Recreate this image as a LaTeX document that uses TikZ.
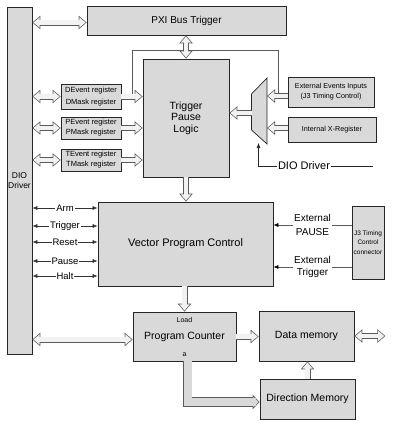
\documentclass[tikz,border=0pt]{standalone}
\usepackage{fontspec}
\setmainfont{Liberation Sans}
\usetikzlibrary{arrows.meta,calc,positioning}

\definecolor{boxgray}{HTML}{D9D9D9}
\definecolor{linegray}{HTML}{5A5A5A}
\definecolor{hollowfill}{HTML}{F2F2F2}

\begin{document}
\begin{tikzpicture}[x=1pt,y=-1pt,>={Latex[length=5pt,width=4pt]},line width=0.6pt]
        \tikzstyle{block}=[draw=black!85, fill=boxgray, line width=0.7pt, inner sep=1pt, align=center, font=\fontsize{10.5}{11.5}\selectfont]
        \tikzstyle{regbox}=[block, minimum width=60pt, minimum height=22pt, font=\fontsize{7.5}{10}\selectfont]
        % hollow block arrows: dark outline, light inside
        \tikzstyle{fatarrow}=[preaction={draw=linegray, line width=6pt, shorten >=0pt, shorten <=0pt, -{Triangle[length=8pt, width=13pt]}},
          draw=hollowfill, line width=4.6pt, shorten >=1.11pt, -{Triangle[length=6.2pt, width=10pt]},
          postaction={draw=hollowfill, line width=4.6pt, shorten >=5pt, shorten <=0pt, -}]
        \tikzstyle{fatboth}=[preaction={draw=linegray, line width=6pt, shorten >=0pt, shorten <=0pt, {Triangle[length=8pt, width=13pt]}-{Triangle[length=8pt, width=13pt]}},
          draw=hollowfill, line width=4.6pt, shorten >=1.11pt, shorten <=1.11pt, {Triangle[length=6.2pt, width=10pt]}-{Triangle[length=6.2pt, width=10pt]},
          postaction={draw=hollowfill, line width=4.6pt, shorten >=5pt, shorten <=5pt, -}]
        \tikzstyle{widearrow}=[preaction={draw=linegray, line width=9.5pt, shorten >=0pt, -{Triangle[length=7pt, width=14pt]}},
          draw=boxgray, line width=8pt, shorten >=1.06pt, -{Triangle[length=5.2pt, width=10.4pt]},
          postaction={draw=boxgray, line width=8pt, shorten >=4pt, -}]
        \tikzstyle{sig}=[<->, draw=black!80]
        \tikzstyle{siglbl}=[fill=white, text=black, inner sep=1pt, font=\fontsize{9.5}{11}\selectfont]

        \useasboundingbox (0,0) rectangle (406,432);

        % blocks
        \node[block, minimum width=25pt, minimum height=347pt, font=\fontsize{8.5}{10}\selectfont] (dio) at (19.5,180.5) {DIO\\Driver};
        \node[block, minimum width=199pt, minimum height=29pt, font=\fontsize{10}{12}\selectfont] (pxi) at (186.5,20.5) {PXI Bus Trigger};
        \node[block, minimum width=86pt, minimum height=118pt] (tpl) at (186,118) {Trigger\\Pause\\Logic};
        \node[regbox, minimum height=25pt, font=\fontsize{7.5}{12}\selectfont] (dreg) at (91,96.5) {DEvent register\\DMask register};
        \node[regbox] (preg) at (91,128) {PEvent register\\PMask register};
        \node[regbox] (treg) at (91,160) {TEvent register\\TMask register};
        \node[block, minimum width=86pt, minimum height=30pt, font=\fontsize{7.2}{10}\selectfont] (ext) at (331,92) {External Events Inputs\\(J3 Timing Control)};
        \node[block, minimum width=88pt, minimum height=25pt, font=\fontsize{7.2}{10}\selectfont] (xreg) at (332,129.5) {Internal X-Register};
        \node[block, minimum width=175pt, minimum height=84pt, font=\fontsize{11}{13}\selectfont] (vpc) at (185.5,244) {Vector Program Control};
        \node[block, minimum width=32pt, minimum height=73pt, font=\fontsize{6.5}{9.5}\selectfont] (j3) at (368,242.5) {J3 Timing\\Control\\connector};
        \node[block, minimum width=103pt, minimum height=49pt] (pc) at (184.5,336.5) {Program Counter};
        \node[font=\fontsize{7}{8}\selectfont, below=2pt of pc.north] (pcload) {Load};
        \node[font=\fontsize{7}{8}\selectfont, above=1pt of pc.south] (pca) {a};
        \node[block, minimum width=95pt, minimum height=50pt] (dmem) at (306.5,336) {Data memory};
        \node[block, minimum width=95pt, minimum height=40pt] (dirm) at (307.5,399) {Direction Memory};

        % multiplexer
        \draw[draw=black!85, fill=boxgray, line width=0.7pt] (251.5,94) -- (267,78) -- (267,144) -- (251.5,130) -- cycle;
        \coordinate (muxin1) at (267,96);
        \coordinate (muxin2) at (267,128);
        \coordinate (muxout) at (251.5,113);
        \coordinate (muxsel) at (258.5,143);

        % DIO driver select line
        \node[font=\fontsize{11}{13}\selectfont, inner sep=1pt] (diolbl) at (304,166) {DIO Driver};
        \coordinate (dioend) at (373,166);
        \draw[black!85] (diolbl.east) -- (dioend);
        \draw[black!85, ->] (diolbl.west) -| (muxsel);

        % tap from DEvent register to external events
        \coordinate (dtap) at (132,94);
        \coordinate (jtap) at (278,94);
        \draw[linegray] (dtap) -- ++(0,-44) -| (jtap);

        % wide arrows
        \draw[fatboth] ($(dio.east |- pxi.west)+(0,2)$) -- ($(pxi.west)+(0,2)$);
        \draw[fatboth] (tpl.north |- pxi.south) -- (tpl.north);
        \foreach \r in {dreg,preg,treg} {
          \draw[fatboth] (dio.east |- \r.west) -- (\r.west);
          \draw[fatarrow] (\r.east) -- (\r.east -| tpl.west);
        }
        \draw[fatarrow] (ext.west |- muxin1) -- (muxin1);
        \draw[fatarrow] (xreg.west |- muxin2) -- (muxin2);
        \draw[fatarrow] (muxout) -- (muxout -| tpl.east);
        \draw[fatarrow] (tpl.south) -- (tpl.south |- vpc.north);
        \draw[fatarrow] (pc.north |- vpc.south) -- (pc.north);
        \draw[fatboth] ($(dio.east |- pc.west)+(0,3)$) -- ($(pc.west)+(0,3)$);
        \draw[fatarrow] (pc.east) -- (pc.east -| dmem.west);
        \draw[fatboth] (dmem.east) -- ++(31,0);
        \draw[fatarrow] (dirm.north) -- (dirm.north |- dmem.south);
        \draw[widearrow] ($(pc.south)+(3,-0.5)$) |- ($(dirm.west)+(0,3)$);

        % control signals
        \foreach \lbl/\yy [count=\i] in {Arm/208, Trigger/226, Reset/242, Pause/261, Halt/276}
          \draw[sig] (dio.east |- 0,\yy) -- node[siglbl] (sig\i) {\lbl} (vpc.west |- 0,\yy);

        % external inputs
        \draw[draw=linegray, -{Latex[black, length=5pt, width=4pt]}] (j3.west |- 0,225) -- node[siglbl, align=center, font=\fontsize{10}{13.5}\selectfont] (extpause) {External\\PAUSE} (vpc.east |- 0,225);
        \draw[draw=linegray, -{Latex[black, length=5pt, width=4pt]}] (j3.west |- 0,267) -- node[siglbl, align=center, font=\fontsize{10}{12.5}\selectfont] (exttrig) {External\\Trigger} (vpc.east |- 0,267);
\end{tikzpicture}
\end{document}
